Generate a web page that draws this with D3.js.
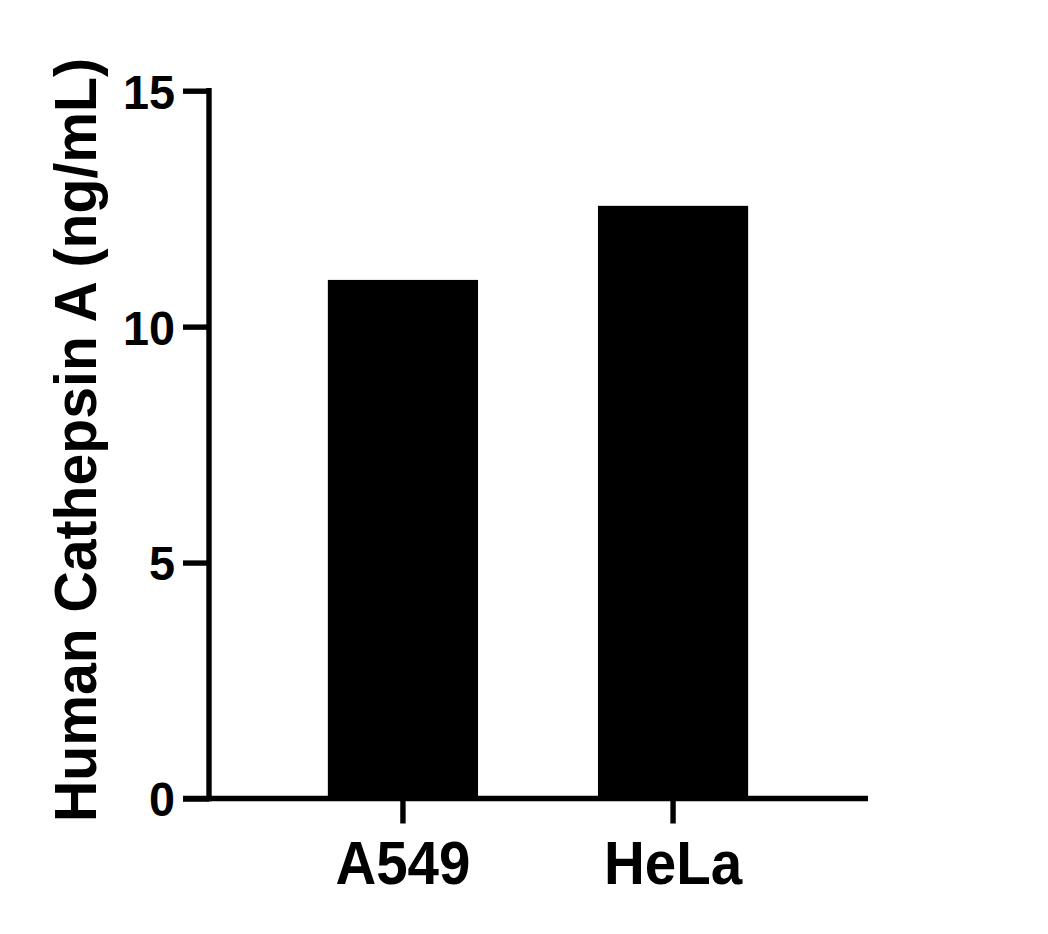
<!DOCTYPE html>
<html>
<head>
<meta charset="utf-8">
<script src="https://cdn.jsdelivr.net/npm/d3@7"></script>
<style>
  html, body { margin: 0; padding: 0; background: #fff; }
  svg { display: block; }
  text { font-family: "Liberation Sans", Arial, sans-serif; font-weight: bold; fill: #000; }
</style>
</head>
<body>
<script>
const categories = ["A549", "HeLa"];
const values = [10.99, 12.56];
const yTicks = [0, 5, 10, 15];
const yLabel = "Human Cathepsin A (ng/mL)";

const W = 1048, H = 934;
const svg = d3.select("body").append("svg").attr("width", W).attr("height", H);

const axisX = 209, axisY = 798.5, plotTop = 90.7, plotRight = 867;

const y = d3.scaleLinear().domain([0, 15]).range([axisY, plotTop]);
const x = d3.scaleBand().domain(categories).range([axisX, plotRight])
  .paddingInner(0.444).paddingOuter(0.44);

// bars
svg.selectAll("rect.bar").data(categories).join("rect")
  .attr("class", "bar")
  .attr("x", d => x(d))
  .attr("width", x.bandwidth())
  .attr("y", (d, i) => y(values[i]))
  .attr("height", (d, i) => axisY - y(values[i]))
  .attr("fill", "#000");

// y axis
const yAxis = d3.axisLeft(y).tickValues(yTicks).tickSize(26).tickPadding(8).tickFormat(d3.format("d"));
const gy = svg.append("g").attr("transform", `translate(${axisX},0)`).call(yAxis);
gy.select(".domain").attr("d", `M0,${plotTop - 2.7}V${axisY + 2.7}`).attr("stroke", "#000").attr("stroke-width", 5.4).attr("fill", "none");
gy.selectAll(".tick line").attr("stroke", "#000").attr("stroke-width", 5.4);
gy.selectAll(".tick text")
  .style("font-size", "49px").style("font-family", "'Liberation Sans', Arial, sans-serif").style("font-weight", "bold")
  .attr("fill", "#000").attr("x", 0).attr("dy", "0.355em")
  .attr("transform", "translate(-34,0) scale(0.955,1)");

// x axis
const xAxis = d3.axisBottom(x).tickSize(25).tickPadding(14);
const gx = svg.append("g").attr("transform", `translate(0,${axisY})`).call(xAxis);
gx.select(".domain").attr("d", `M${axisX - 26},0H${plotRight + 1}`).attr("stroke", "#000").attr("stroke-width", 5.4).attr("fill", "none");
gx.selectAll(".tick line").attr("stroke", "#000").attr("stroke-width", 5.4);
gx.selectAll(".tick text")
  .style("font-size", "61px").style("font-family", "'Liberation Sans', Arial, sans-serif").style("font-weight", "bold")
  .attr("fill", "#000").attr("y", 85.5).attr("dy", 0)
  .attr("transform", "scale(0.926,1)");

// y label
svg.append("text")
  .attr("transform", `translate(96,440) rotate(-90) scale(0.977,1)`)
  .attr("text-anchor", "middle")
  .style("font-size", "58.5px")
  .text(yLabel);
</script>
</body>
</html>
